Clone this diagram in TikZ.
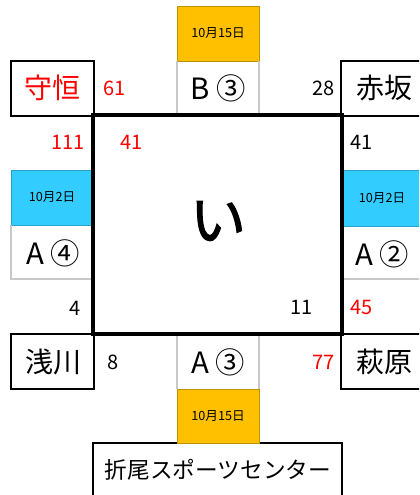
\documentclass[tikz,border=0pt]{standalone}
\usepackage{fontspec}
\setmainfont{Noto Sans CJK JP}
\newfontfamily\boldjp{Noto Sans CJK JP}[BoldFont=*,FakeBold=2]
\definecolor{dateOrange}{HTML}{FFC000}
\definecolor{dateBlue}{HTML}{33CCFF}
\definecolor{cellGrey}{HTML}{C8C8C8}
\newcommand{\numSize}{\fontsize{15}{15}\selectfont}
\newcommand{\nameSize}{\fontsize{21}{21}\selectfont}
\newcommand{\cellSize}{\fontsize{22}{22}\selectfont}
\newcommand{\dateSize}{\fontsize{9.5}{9.5}\selectfont}

\begin{document}
\begin{tikzpicture}[x=0.75pt, y=-0.75pt,
      namebox/.style={draw=black, line width=1.1pt},
      greyline/.style={draw=cellGrey, line width=0.8pt},
      num/.style={font=\numSize, inner sep=0pt},
      redn/.style={num, text=red}]
   \clip (0,0) rectangle (419,495);
   \fill[white] (0,0) rectangle (419,495);

   \draw[namebox] (11,61) rectangle (94,116);
   \draw[namebox] (341,61) rectangle (430,116);
   \draw[namebox] (11,334) rectangle (94,389);
   \draw[namebox] (341,334) rectangle (430,389);
   \draw[namebox] (93,443) rectangle (342,500);

   \draw[fill=dateOrange, draw=dateOrange!75!black, line width=0.6pt] (177,6) rectangle (259,61);
   \draw[fill=dateOrange, draw=dateOrange!75!black, line width=0.6pt] (177,389) rectangle (259,443);
   \draw[fill=dateBlue, draw=dateBlue!80!black, line width=0.6pt] (11,170) rectangle (93,225);
   \draw[fill=dateBlue, draw=dateBlue!80!black, line width=0.6pt] (342,170) rectangle (430,226);

   \foreach \y in {61,334}
   {
      \draw[greyline] (177,\y) -- (177,\y+55);
      \draw[greyline] (259,\y) -- (259,\y+55);
   }
   \draw[greyline] (11,225) -- (11,279) -- (93,279);
   \draw[greyline] (342,279) -- (430,279);

   \draw[line width=3pt] (93,115) rectangle (342,334);

   \node (shuko) [font=\nameSize, text=red] at (52,88) {守恒};
   \node (akasaka) [font=\nameSize] at (384,88) {赤坂};
   \node (asakawa) [font=\nameSize] at (53,362) {浅川};
   \node (hagiwara) [font=\nameSize] at (384,362) {萩原};

   \node (dateB) [font=\dateSize] at (218,33) {10月15日};
   \node (dateA3) [font=\dateSize] at (218,416) {10月15日};
   \node (dateA4) [font=\dateSize] at (52,197) {10月2日};
   \node (dateA2) [font=\dateSize] at (382,198) {10月2日};

   \node (courtB) [font=\cellSize] at (218,88) {B ③};
   \node (courtA3) [font=\cellSize] at (218,362) {A ③};
   \node (courtA4) [font=\cellSize] at (53,253) {A ④};
   \node (courtA2) [font=\cellSize] at (382,254) {A ②};

   \node (venue) [font=\fontsize{17}{17}\selectfont] at (218,470) {折尾スポーツセンター};

   \node (group) [font=\boldjp\fontsize{42}{42}\selectfont] at (218,221) {い};

   \node (n61) [redn, anchor=west] at (103,88) {61};
   \node (n28) [num, anchor=east] at (335,88) {28};
   \node (n111) [redn, anchor=east] at (85,142) {111};
   \node (n41a) [redn, anchor=west] at (120,142) {41};
   \node (n41b) [num, anchor=west] at (350,142) {41};
   \node (n4) [num, anchor=east] at (81,308) {4};
   \node (n11) [num, anchor=east] at (313,307) {11};
   \node (n45) [redn, anchor=west] at (350,307) {45};
   \node (n8) [num, anchor=west] at (107,362) {8};
   \node (n77) [redn, anchor=east] at (335,362) {77};
\end{tikzpicture}
\end{document}
